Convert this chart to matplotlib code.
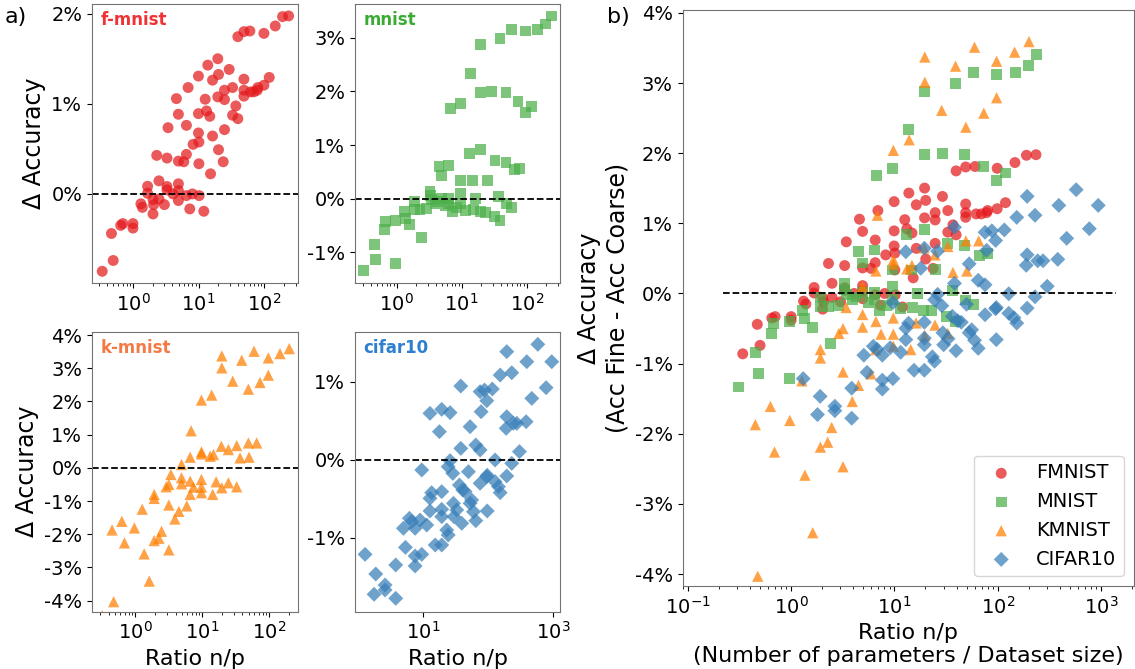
import numpy as np
import matplotlib
matplotlib.use("Agg")
import matplotlib.pyplot as plt
from matplotlib.ticker import FuncFormatter

# data (x = ratio n/p, y = delta accuracy in %)
fm_x = [0.34, 0.50, 0.47, 0.65, 0.70, 1.0, 1.0, 1.32, 1.39, 1.67, 1.67, 2.02, 2.02, 2.06,
        2.49, 2.49, 3.01, 3.30, 3.30, 4.08, 4.92, 4.92, 4.92, 6.52, 7.33, 8.05, 10.2, 12.0,
        2.30, 3.30, 3.42, 4.59, 4.92, 4.92, 5.94, 6.52, 6.52, 6.92, 8.24, 9.94, 9.94, 9.94,
        10.1, 10.1, 12.6, 13.2, 14.8, 13.8, 15.2, 16.3, 16.3, 19.6, 20.1, 19.6, 20.1, 23.7,
        24.8, 24.8, 24.8, 29.2, 32.9, 32.9, 36.9, 39.6, 39.6, 49.0, 49.0, 49.0, 49.0, 60.4,
        61.8, 69.5, 78.2, 80.0, 98.9, 98.9, 119, 147, 190, 235]
fm_y = [-0.86, -0.74, -0.44, -0.35, -0.33, -0.33, -0.38, -0.11, -0.15, 0.085, 0.007, -0.063, -0.223, -0.12,
        0.145, -0.056, -0.119, 0.082, 0.045, 0.0, 0.112, 0.037, -0.074, -0.019, -0.167, 0.0, -0.019, -0.193,
        0.428, 0.398, 0.736, 1.059, 0.885, 0.364, 0.357, 0.762, 0.439, 1.182, 0.55, 1.309, 0.892, 0.677,
        0.576, 0.335, 1.052, 0.922, 0.862, 1.431, 0.223, 0.643, 1.264, 1.502, 1.327, 1.078, 0.491, 0.357,
        0.714, 1.152, 1.048, 1.383, 1.182, 0.874, 0.978, 0.836, 1.747, 1.803, 1.275, 1.152, 1.086, 1.81,
        1.134, 1.134, 1.152, 1.182, 1.784, 1.208, 1.294, 1.866, 1.97, 1.978]

mn_x = [0.31, 0.45, 0.48, 0.64, 0.67, 0.97, 0.97, 1.30, 1.36, 1.60, 1.91, 1.91, 2.29, 2.39,
        2.89, 3.26, 3.30, 3.45, 3.89, 4.27, 4.48, 4.92, 4.92, 5.61, 6.38, 6.38, 6.38, 7.18,
        6.77, 8.4, 9.66, 9.66, 9.66, 9.66, 11.5, 13.7, 13.0, 14.6, 15.1, 16.6, 19.6, 19.6,
        19.6, 19.3, 23.1, 24.8, 29.0, 32.6, 31.8, 36.6, 38.9, 38.9, 48.1, 48.1, 49.2, 58.8,
        58.8, 66.1, 73.6, 78.9, 97.6, 97.6, 119, 148, 198, 240]
mn_y = [-1.333, -0.843, -1.135, -0.564, -0.428, -0.403, -1.209, -0.236, -0.36, -0.484, -0.05, -0.192, -0.192, -0.713,
        -0.174, 0.136, 0.056, -0.019, -0.081, -0.05, 0.601, 0.434, 0.012, -0.13, 0.62, 0.012, -0.093, -0.236,
        1.686, -0.17, 1.779, 0.335, 0.093, -0.081, -0.217, 2.337, 0.837, 0.335, -0.205, 0.0, 2.877, 1.978,
        0.911, -0.236, -0.248, 0.341, 1.99, 0.713, -0.329, 0.043, 2.988, -0.403, 1.978, 0.682, -0.093, 3.156,
        -0.155, 0.539, 1.81, 0.57, 1.606, 3.125, 1.717, 3.156, 3.255, 3.404]

km_x = [0.32, 0.475, 0.45, 0.63, 0.69, 0.97, 1.27, 1.36, 1.62, 1.92, 1.92, 1.92, 2.26, 2.47,
        2.90, 3.18, 3.18, 3.18, 3.41, 3.91, 4.49, 4.92, 4.92, 4.92, 5.90, 6.62, 6.62, 6.62,
        6.85, 7.43, 9.77, 9.77, 9.77, 9.77, 9.77, 9.77, 13.2, 13.9, 14.4, 14.8, 16.2, 19.4,
        19.7, 19.7, 19.7, 24.7, 24.7, 28.7, 32.9, 32.9, 36.9, 39.1, 49.2, 50.3, 49.2, 59.7,
        65.5, 73.4, 97.7, 97.7, 146, 201]
km_y = [-4.45, -4.03, -1.87, -1.61, -2.26, -1.81, -1.245, -2.59, -3.41, -0.80, -0.92, -2.19, -2.12, -1.91,
        -0.57, -2.47, -1.12, -0.50, -0.20, -1.54, -1.31, -0.30, -0.48, 0.10, -1.145, -0.40, -0.80, 0.32,
        1.115, -0.58, 2.04, 0.48, 0.42, -0.35, -0.58, -0.75, 0.35, 2.19, -0.80, 0.40, -0.42, 0.65,
        -0.60, 3.37, 3.01, 0.55, -0.45, 2.61, 0.67, -0.57, 0.30, 3.24, 2.37, 0.32, 0.75, 3.51,
        0.75, 2.57, 3.31, 2.79, 3.44, 3.59]

cf_x = [1.31, 1.91, 1.80, 2.65, 2.65, 3.86, 3.86, 5.43, 5.06, 6.25, 6.79, 7.64, 7.64, 7.64,
        9.1, 9.66, 9.66, 11.5, 12.9, 12.9, 12.9, 13.7, 15.5, 18.0, 19.5, 19.5, 19.5, 19.5,
        19.5, 23.3, 24.5, 26.2, 24.5, 26.2, 28.8, 29.5, 30.0, 33.1, 36.4, 38.2, 38.2, 39.5,
        41.0, 44.5, 50.0, 53.0, 53.0, 56.0, 59.7, 64.8, 64.8, 75.5, 75.5, 78.2, 75.5, 87.9,
        95.5, 95.5, 97.0, 97.0, 116, 128, 128, 144, 153, 153, 189, 193, 193, 193, 230, 230,
        244, 275, 302, 382, 391, 466, 576, 772, 942]
cf_y = [-1.214, -1.466, -1.726, -1.607, -1.671, -1.35, -1.778, -1.124, -0.88, -0.752, -0.795, -0.88, -1.235, -1.363,
        -0.774, -1.214, -0.132, -0.838, 0.594, -0.658, -0.496, -0.423, -1.094, 0.359, 0.645, -0.41, -0.637, -0.731,
        -1.094, -0.902, -0.966, 0.603, -0.09, -0.013, -0.175, -0.56, -0.731, -0.645, -0.325, 0.145, 0.944, -0.816,
        -0.389, -0.41, -0.154, 0.423, -0.56, -0.517, -0.667, -0.782, 0.188, 0.124, -0.303, 0.615, 0.872, 0.893,
        -0.218, 0.756, -0.658, -0.2, 0.906, -0.004, -0.282, -0.346, -0.423, 1.085, 0.402, 0.551, 1.385, -0.209, -0.047, 1.115,
        0.466, 0.466, 0.103, 0.487, 1.256, 0.786, 1.479, 0.923, 1.256]

names = ["FMNIST", "MNIST", "KMNIST", "CIFAR10"]
short = ["f-mnist", "mnist", "k-mnist", "cifar10"]
xs = [fm_x, mn_x, km_x, cf_x]
ys = [fm_y, mn_y, km_y, cf_y]
colors = ["#e41a1c", "#4daf4a", "#ff7f00", "#377eb8"]
text_colors = ["#f03234", "#3aac33", "#f47a45", "#2f7fd0"]
markers = ["o", "s", "^", "D"]
sizes = [62, 62, 66, 58]

plt.rcParams["font.size"] = 14
pct = FuncFormatter(lambda v, p: f"{int(round(v))}%")

fig = plt.figure(figsize=(11.35, 6.69), dpi=100)

rects = [[0.081, 0.577, 0.1815, 0.417],
         [0.3128, 0.577, 0.1806, 0.417],
         [0.081, 0.0857, 0.1815, 0.4185],
         [0.3128, 0.0857, 0.1806, 0.4185]]
xlims = [(0.237, 326), (0.229, 326), (0.225, 271), (0.92, 1260)]
ylims = [(-0.99, 2.11), (-1.568, 3.627), (-4.33, 4.10), (-1.949, 1.641)]

for i in range(4):
    ax = fig.add_axes(rects[i])
    ax.scatter(xs[i], ys[i], s=sizes[i], marker=markers[i], color=colors[i], alpha=0.72,
               edgecolors="none")
    ax.axhline(0, color="k", ls="--", lw=1.3)
    ax.set_xscale("log")
    ax.set_xlim(*xlims[i])
    ax.set_ylim(*ylims[i])
    ax.yaxis.set_major_locator(plt.MultipleLocator(1))
    ax.yaxis.set_major_formatter(pct)
    if i == 3:
        ax.set_xticks([10, 1000])
    ax.text(0.04, 0.975, short[i], transform=ax.transAxes, ha="left", va="top",
            color=text_colors[i], fontsize=12, fontweight="bold")
    if i in (0, 2):
        ax.set_ylabel("Δ Accuracy", fontsize=17)
    if i in (2, 3):
        ax.set_xlabel("Ratio n/p", fontsize=16)
    for sp in ax.spines.values():
        sp.set_color("0.45")

axb = fig.add_axes([0.6015, 0.124, 0.3976, 0.861])
for i in range(4):
    axb.scatter(xs[i], ys[i], s=sizes[i], marker=markers[i], color=colors[i], alpha=0.72,
                edgecolors="none", label=names[i])
axb.hlines(0, 0.22, 1400, colors="k", linestyles="--", lw=1.3)
axb.set_xscale("log")
axb.set_xlim(10**-1.05, 10**3.32)
axb.set_ylim(-4.17, 4.04)
axb.yaxis.set_major_locator(plt.MultipleLocator(1))
axb.yaxis.set_major_formatter(pct)
axb.set_ylabel("Δ Accuracy\n(Acc Fine - Acc Coarse)", fontsize=17)
axb.set_xlabel("Ratio n/p\n(Number of parameters / Dataset size)", fontsize=16)
axb.legend(loc="lower right", fontsize=14)
for sp in axb.spines.values():
    sp.set_color("0.45")

fig.text(0.004, 0.99, "a)", fontsize=16, ha="left", va="top")
fig.text(0.535, 0.99, "b)", fontsize=16, ha="left", va="top")

fig.savefig("out.png", dpi=100)
